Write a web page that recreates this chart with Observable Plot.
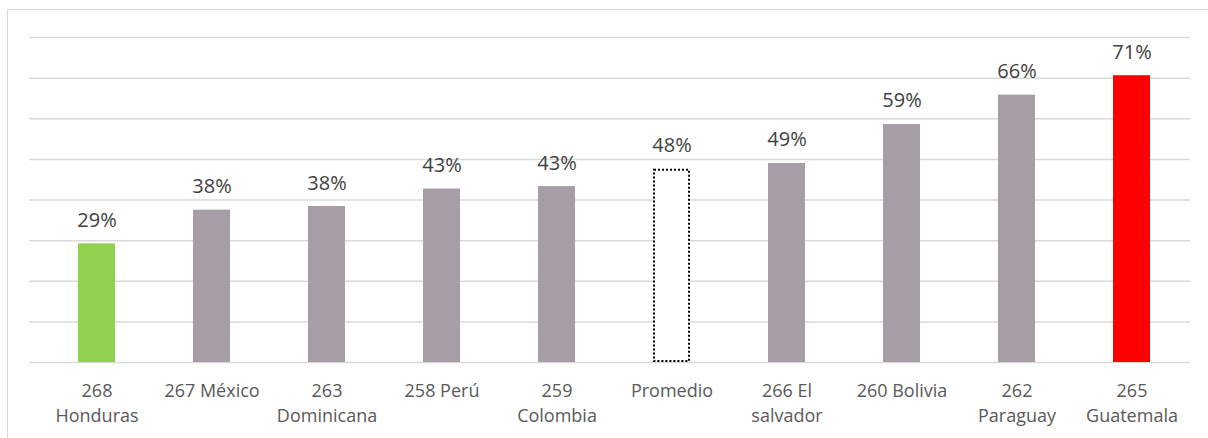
<!DOCTYPE html>
<html>
<head>
<meta charset="utf-8">
<script src="https://cdn.jsdelivr.net/npm/d3@7"></script>
<script src="https://cdn.jsdelivr.net/npm/@observablehq/plot@0.6"></script>
<style>
  html, body { margin: 0; padding: 0; background: #fff; }
  #wrap { position: relative; width: 1208px; height: 438px; overflow: hidden; }
  #frame { position: absolute; left: 7px; top: 9px; width: 1220px; height: 460px; border: 1px solid #d9d9d9; box-sizing: border-box; }
  #chart { position: absolute; left: 0; top: 0; }
</style>
</head>
<body>
<div id="wrap">
  <div id="frame"></div>
  <div id="chart"></div>
</div>
<script>
const categories = ["268 Honduras", "267 México", "263 Dominicana", "258 Perú", "259 Colombia", "Promedio", "266 El salvador", "260 Bolivia", "262 Paraguay", "265 Guatemala"];
const tickLabels = ["268\nHonduras", "267 México", "263\nDominicana", "258 Perú", "259\nColombia", "Promedio", "266 El\nsalvador", "260 Bolivia", "262\nParaguay", "265\nGuatemala"];
const values = [29.2, 37.5, 38.4, 42.7, 43.3, 47.6, 49.0, 58.6, 65.8, 70.6];
const colors = ["#92D050", "#A69DA6", "#A69DA6", "#A69DA6", "#A69DA6", "none", "#A69DA6", "#A69DA6", "#A69DA6", "#FF0000"];
const gridTicks = [0, 10, 20, 30, 40, 50, 60, 70, 80];

const data = categories.map((c, i) => ({cat: c, value: values[i], color: colors[i], label: tickLabels[i]}));
const solid = data.filter(d => d.cat !== "Promedio");
const avg = data.filter(d => d.cat === "Promedio");

const chart = Plot.plot({
  width: 1208,
  height: 438,
  marginTop: 37,
  marginBottom: 76,
  marginLeft: 29,
  marginRight: 18,
  style: {fontFamily: "'Open Sans', sans-serif", background: "transparent"},
  x: {domain: categories, paddingInner: 0.68, paddingOuter: 0.38, align: 0.55, label: null},
  y: {domain: [0, 80], label: null},
  marks: [
    Plot.ruleY(gridTicks, {stroke: "#d9d9d9", strokeWidth: 1.5, strokeOpacity: 1}),
    Plot.barY(solid, {x: "cat", y: "value", fill: "color"}),
    Plot.barY(avg, {x: "cat", y: "value", fill: "white", stroke: "black", strokeWidth: 2, strokeDasharray: "2,2", inset: 1}),
    Plot.text(data, {x: "cat", y: "value", text: d => Math.round(d.value) + "%", lineAnchor: "bottom", dy: -17, fontSize: 20, fill: "#404040"}),
    Plot.axisX({tickSize: 0, tickPadding: 17, tickFormat: (d, i) => tickLabels[categories.indexOf(d)], fontSize: 18, lineHeight: 1.39, fill: "#595959"}),
    Plot.axisY({ticks: [], tickSize: 0, label: null})
  ]
});
document.getElementById("chart").appendChild(chart);
</script>
</body>
</html>
